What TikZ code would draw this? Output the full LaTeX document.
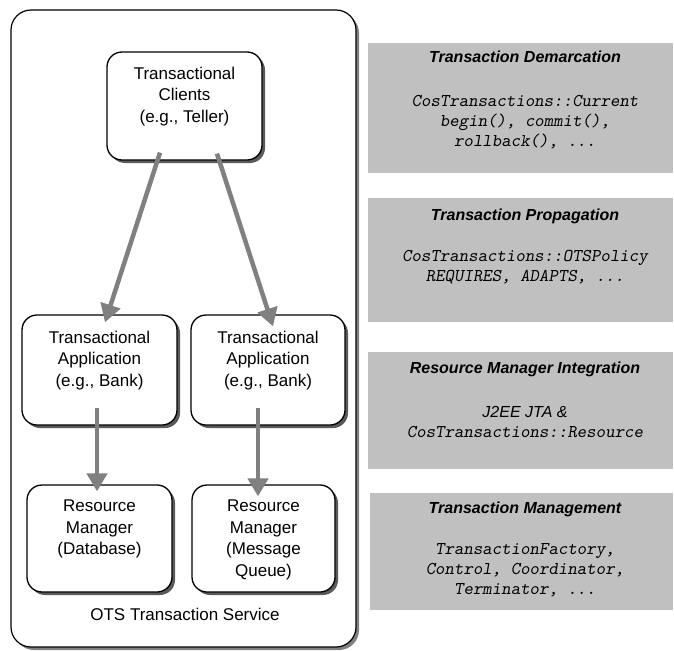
\documentclass[tikz,border=0pt]{standalone}
\usepackage{fontspec}
\setmainfont{Liberation Sans}
\usetikzlibrary{arrows.meta,shadows,calc}
\definecolor{boxgray}{RGB}{192,192,192}
\definecolor{arrgray}{RGB}{128,128,128}
\definecolor{shgray}{RGB}{90,90,90}
\begin{document}
\begin{tikzpicture}[x=1pt,y=-1pt,
  rbox/.style={draw=black, line width=1.3pt, fill=white, rounded corners=15pt, inner sep=0pt,
    drop shadow={shadow xshift=3pt, shadow yshift=-3pt, fill=shgray, opacity=1}},
  outerbox/.style={draw=black, line width=1.2pt, fill=white, rounded corners=20pt, inner sep=0pt,
    drop shadow={shadow xshift=3pt, shadow yshift=-3pt, fill=arrgray, opacity=1}},
  lbl/.style={font=\fontsize{17}{21.5}\selectfont, align=center, anchor=north, inner sep=0pt},
  graybox/.style={fill=boxgray, draw=none, inner sep=0pt},
  ttl/.style={font=\fontsize{16}{20}\selectfont\bfseries\itshape, anchor=base, inner sep=0pt},
  code/.style={font=\fontsize{18}{20}\selectfont\ttfamily\slshape, align=center, anchor=north, inner sep=0pt},
  arr/.style={draw=arrgray, line width=4.5pt, -{Triangle[length=18pt,width=20pt]}}
]
\useasboundingbox (0,0) rectangle (674,650);

% outer service box
\node[outerbox, minimum width=345pt, minimum height=637pt] (ots) at (183.5,328.5) {};

% boxes
\node[rbox, minimum width=155pt, minimum height=108pt] (tc) at (184.5,106) {};
\node[rbox, minimum width=155pt, minimum height=110pt] (app1) at (99.5,370) {};
\node[rbox, minimum width=154pt, minimum height=110pt] (app2) at (268,370) {};
\node[rbox, minimum width=145pt, minimum height=107pt] (rm1) at (99.5,538.5) {};
\node[rbox, minimum width=143pt, minimum height=107pt] (rm2) at (263.5,538.5) {};

\node[lbl] (tctext) at (184.5,66.8) {Transactional\\Clients\\(e.g., Teller)};
\node[lbl] (app1text) at (99.5,330.8) {Transactional\\Application\\(e.g., Bank)};
\node[lbl] (app2text) at (268,330.8) {Transactional\\Application\\(e.g., Bank)};
\node[lbl] (rm1text) at (99.5,499.8) {Resource\\Manager\\(Database)};
\node[lbl] (rm2text) at (263.5,499.8) {Resource\\Manager\\(Message\\Queue)};
\node[lbl] (otstext) at (185,607.8) {OTS Transaction Service};

% arrows
\draw[arr] ($(tc.south)+(-24.5,-8)$) -- ($(app1.north)+(5.5,8)$);
\draw[arr] ($(tc.south)+(32.5,-7)$) -- ($(app2.north)+(5,12)$);
\draw[arr] ($(app1.south)+(-2.5,-18)$) -- ($(rm1.north)+(-2.5,7)$);
\draw[arr] ($(app2.south)+(-10,-18)$) -- ($(rm2.north)+(-5.5,12)$);

% right column
\node[graybox, minimum width=305pt, minimum height=130pt] (g1) at (520.5,108) {};
\node[graybox, minimum width=305pt, minimum height=124pt] (g2) at (520.5,260) {};
\node[graybox, minimum width=305pt, minimum height=117pt] (g3) at (520.5,410.5) {};
\node[graybox, minimum width=303pt, minimum height=117pt] (g4) at (521.5,551.5) {};

\node[ttl] (t1) at (525,63) {Transaction Demarcation};
\node[code] (c1) at (525,95) {CosTransactions::Current\\begin(), commit(),\\rollback(), ...};
\node[ttl] (t2) at (525,220) {Transaction Propagation};
\node[code] (c2) at (525,250) {CosTransactions::OTSPolicy\\REQUIRES, ADAPTS, ...};
\node[ttl] (t3) at (525,373) {Resource Manager Integration};
\node[font=\fontsize{16}{20}\selectfont\itshape, anchor=base, inner sep=0pt] (j3) at (525,417) {J2EE JTA \&};
\node[code] (c3) at (525,426) {CosTransactions::Resource};
\node[ttl] (t4) at (525,513) {Transaction Management};
\node[code] (c4) at (525,543) {TransactionFactory,\\Control, Coordinator,\\Terminator, ...};
\end{tikzpicture}
\end{document}
